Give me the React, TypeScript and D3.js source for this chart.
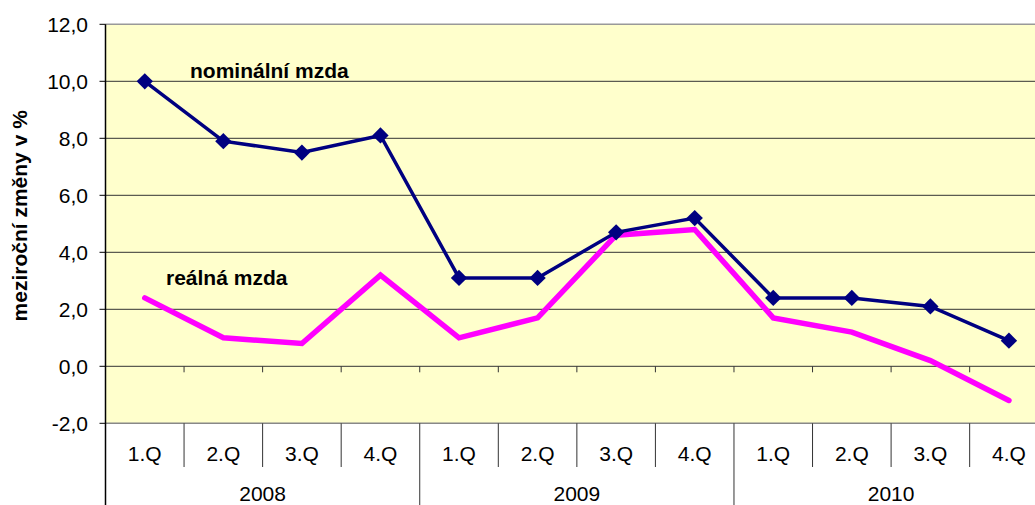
import React from "react";
import * as d3 from "d3";

const quarters = ["1.Q", "2.Q", "3.Q", "4.Q", "1.Q", "2.Q", "3.Q", "4.Q", "1.Q", "2.Q", "3.Q", "4.Q"];
const years = ["2008", "2009", "2010"];
const nominal = [10.0, 7.9, 7.5, 8.1, 3.1, 3.1, 4.7, 5.2, 2.4, 2.4, 2.1, 0.9];
const real = [2.4, 1.0, 0.8, 3.2, 1.0, 1.7, 4.6, 4.8, 1.7, 1.2, 0.2, -1.2];
const yTicks = [-2, 0, 2, 4, 6, 8, 10, 12];

export default function App() {
  const W = 1035, H = 505;
  const left = 105.5, top = 24.3, bottom = 423.3, right = 105.5 + 12 * 78.56;
  const x = d3.scaleBand<number>().domain(d3.range(12)).range([left, right]);
  const y = d3.scaleLinear().domain([-2, 12]).range([bottom, top]);
  const cx = (i: number) => (x(i) as number) + x.bandwidth() / 2;
  const line = d3.line<number>().x((_, i) => cx(i)).y((d) => y(d));
  const font = "Arial, 'Liberation Sans', sans-serif";
  const fs = 21;
  const fmt = (v: number) => v.toFixed(1).replace(".", ",");
  const diamond = d3.symbol().type(d3.symbolDiamond2).size(170)() as string;

  return (
    <svg width={W} height={H} style={{ position: "absolute", left: 0, top: 0 }}>
      <rect x={left} y={top} width={right - left} height={bottom - top} fill="#FFFFCC" />
      {yTicks.filter((t) => t !== -2 && t !== 12).map((t) => (
        <line key={t} x1={left} x2={right} y1={y(t)} y2={y(t)} stroke="#333" strokeWidth={1} />
      ))}
      <line x1={left} x2={right} y1={top} y2={top} stroke="#999" strokeWidth={1.5} />
      <line x1={left} x2={right} y1={bottom} y2={bottom} stroke="#888" strokeWidth={1.5} />
      {d3.range(1, 12).map((i) => (
        <line key={i} x1={x(i) as number} x2={x(i) as number} y1={y(0)} y2={y(0) + 6} stroke="#333" strokeWidth={1} />
      ))}
      {d3.range(1, 12).map((i) => (
        <line key={"s" + i} x1={x(i) as number} x2={x(i) as number} y1={bottom} y2={i % 4 === 0 ? H : 467} stroke="#333" strokeWidth={1} />
      ))}
      <line x1={left} x2={left} y1={top} y2={H} stroke="#000" strokeWidth={1.5} />
      {yTicks.map((t) => (
        <g key={t}>
          <line x1={left - 6} x2={left} y1={y(t)} y2={y(t)} stroke="#000" />
          <text x={88} y={y(t)} dy="0.35em" textAnchor="end" fontFamily={font} fontSize={fs}>{fmt(t)}</text>
        </g>
      ))}
      {quarters.map((q, i) => (
        <text key={i} x={cx(i)} y={454} dy="0.35em" textAnchor="middle" fontFamily={font} fontSize={fs}>{q}</text>
      ))}
      {years.map((yr, j) => (
        <text key={yr} x={((x(j * 4) as number) + (x(j * 4 + 3) as number) + x.bandwidth()) / 2} y={494} dy="0.35em" textAnchor="middle" fontFamily={font} fontSize={fs}>{yr}</text>
      ))}
      <text transform={`translate(27,${(top + bottom) / 2 - 8}) rotate(-90)`} textAnchor="middle" fontFamily={font} fontSize={fs} fontWeight="bold">meziroční změny v %</text>
      <path d={line(real) as string} fill="none" stroke="#FF00FF" strokeWidth={5.5} strokeLinejoin="miter" strokeLinecap="round" />
      <path d={line(nominal) as string} fill="none" stroke="#000080" strokeWidth={3.5} />
      {nominal.map((v, i) => (
        <path key={i} d={diamond} transform={`translate(${cx(i)},${y(v)})`} fill="#000080" />
      ))}
      <text x={190} y={78} fontFamily={font} fontSize={fs} fontWeight="bold">nominální mzda</text>
      <text x={166} y={285} fontFamily={font} fontSize={fs} fontWeight="bold">reálná mzda</text>
    </svg>
  );
}
